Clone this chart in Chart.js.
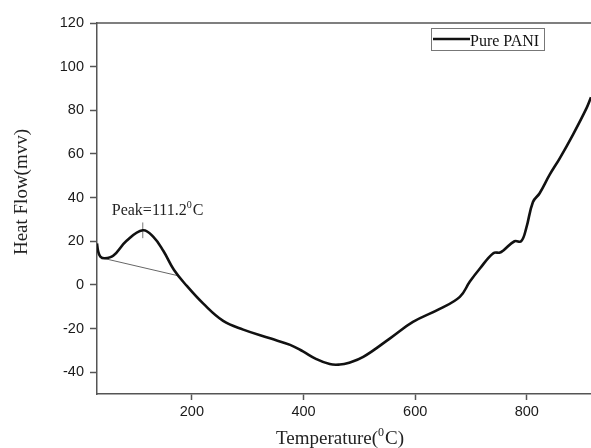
<!DOCTYPE html>
<html>
<head>
<meta charset="utf-8">
<script src="https://cdn.jsdelivr.net/npm/chart.js@4/dist/chart.umd.min.js"></script>
<style>
  html,body{margin:0;padding:0;background:#fff;}
  #wrap{width:591px;height:448px;position:relative;}
</style>
</head>
<body>
<div id="wrap"><canvas id="ch-dsc"></canvas></div>
<script>
// DSC curve of pure PANI
const temps=[30,32,36,44,59,83,112,131,149,168,191,220,256,292,340,376,399,423,447,465,480,507,555,596,644,680,698,716,740,752,758,778,790,799,811,823,841,859,883,907,915];
const heatFlow=[19,15.5,13,12.2,13.3,20.2,25,22,15.5,6.8,-0.5,-8.5,-16.5,-20.5,-24.5,-27.5,-30.5,-34,-36.3,-36.5,-35.8,-33,-24.5,-17,-11,-5.5,1.5,7.5,14.5,14.8,15.8,20,20,26,38,42,50.5,58,69,81,86];

// baseline (tangent) drawn under the first peak
const baseT=[41,175];
const baseY=[12.2,4.2];
// small marker at the peak
const peakT=[112,112];
const peakY=[21.4,28.6];

const xTicks=[200,400,600,800];
const yTicks=[-40,-20,0,20,40,60,80,100,120];

const serif="'Liberation Serif','Times New Roman',serif";
const sans="'Liberation Sans',Arial,sans-serif";
const AX='#555';

// text with a raised small "0" (degree written as superscript zero)
function supText(ctx,x,y,pre,sup,post,size){
  ctx.font=size+'px '+serif;
  ctx.fillText(pre,x,y); x+=ctx.measureText(pre).width;
  ctx.font=Math.round(size*0.65)+'px '+serif;
  ctx.fillText(sup,x,y-size*0.42); x+=ctx.measureText(sup).width+1;
  ctx.font=size+'px '+serif;
  ctx.fillText(post,x,y);
}
function supWidth(ctx,pre,sup,post,size){
  ctx.font=size+'px '+serif; let w=ctx.measureText(pre+post).width;
  ctx.font=Math.round(size*0.65)+'px '+serif; return w+ctx.measureText(sup).width+1;
}

const extras={
  id:'extras',
  afterDraw(c){
    const ctx=c.ctx, a=c.chartArea, xs=c.scales.x, ys=c.scales.y;
    ctx.save();
    // top frame line
    ctx.strokeStyle=AX; ctx.lineWidth=1.5;
    ctx.beginPath(); ctx.moveTo(a.left,a.top); ctx.lineTo(a.right,a.top); ctx.stroke();

    // legend box
    const lx=a.right-160, ly=a.top+5;
    ctx.fillStyle='#fff'; ctx.fillRect(lx,ly,113,22);
    ctx.strokeStyle='#777'; ctx.lineWidth=1; ctx.strokeRect(lx+0.5,ly+0.5,113,22);
    ctx.strokeStyle='#111'; ctx.lineWidth=2.5;
    ctx.beginPath(); ctx.moveTo(lx+2,ly+11); ctx.lineTo(lx+39,ly+11); ctx.stroke();
    ctx.fillStyle='#111'; ctx.font='16px '+serif; ctx.textBaseline='alphabetic'; ctx.textAlign='left';
    ctx.fillText('Pure PANI',lx+39,ly+17.5);

    // peak label
    ctx.fillStyle='#222';
    supText(ctx,xs.getPixelForValue(112)-31,ys.getPixelForValue(32),'Peak=111.2','0','C',16);

    // x title
    const w=supWidth(ctx,'Temperature(','0','C)',19);
    supText(ctx,(a.left+a.right)/2-4-w/2,444,'Temperature(','0','C)',19);

    // y title
    ctx.translate(22,192); ctx.rotate(-Math.PI/2);
    ctx.font='19px '+serif; ctx.textAlign='center'; ctx.textBaseline='middle';
    ctx.fillText('Heat Flow(mvv)',0,0);
    ctx.restore();
  }
};

new Chart(document.getElementById('ch-dsc'),{
  type:'scatter',
  data:{
    datasets:[
      {label:'Pure PANI',data:temps.map((t,i)=>({x:t,y:heatFlow[i]})),showLine:true,
        borderColor:'#111',borderWidth:2.6,pointRadius:0,tension:0.4},
      {label:'baseline',data:baseT.map((t,i)=>({x:t,y:baseY[i]})),showLine:true,
        borderColor:'#666',borderWidth:1,pointRadius:0},
      {label:'peak',data:peakT.map((t,i)=>({x:t,y:peakY[i]})),showLine:true,
        borderColor:'#777',borderWidth:1,pointRadius:0}
    ]
  },
  options:{
    responsive:true,maintainAspectRatio:false,animation:false,
    layout:{padding:{top:23,right:0,left:0,bottom:0}},
    plugins:{legend:{display:false},tooltip:{enabled:false}},
    scales:{
      x:{type:'linear',min:30,max:915,
        afterBuildTicks:s=>{s.ticks=xTicks.map(v=>({value:v}));},
        afterFit:s=>{s.height=54;},
        border:{color:AX,width:1.5},
        grid:{drawOnChartArea:false,drawTicks:true,tickLength:6,tickColor:AX,tickWidth:1.5},
        ticks:{color:'#1a1a1a',font:{family:sans,size:14.5},padding:3,maxRotation:0}
      },
      y:{type:'linear',min:-50,max:120,
        afterBuildTicks:s=>{s.ticks=yTicks.map(v=>({value:v}));},
        afterFit:s=>{s.width=97;},
        border:{color:AX,width:1.5},
        grid:{drawOnChartArea:false,drawTicks:true,tickLength:7,tickColor:AX,tickWidth:1.5},
        ticks:{color:'#1a1a1a',font:{family:sans,size:14.5},padding:6}
      }
    }
  },
  plugins:[extras]
});
</script>
</body>
</html>
